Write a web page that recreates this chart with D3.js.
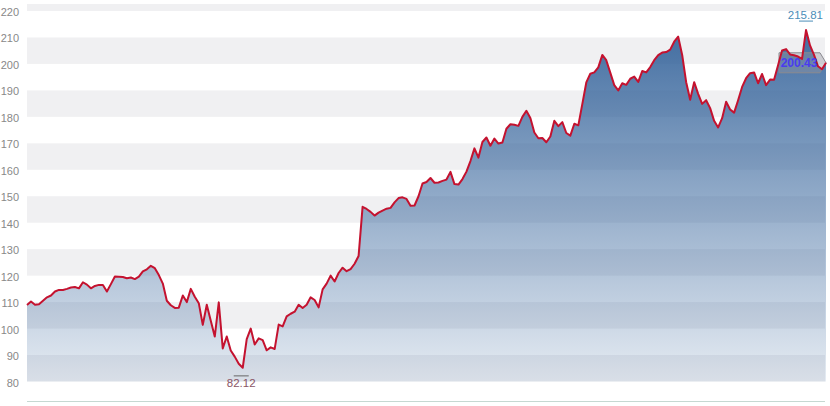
<!DOCTYPE html>
<html>
<head>
<meta charset="utf-8">
<script src="https://cdn.jsdelivr.net/npm/d3@7/dist/d3.min.js"></script>
<style>
  html, body { margin: 0; padding: 0; background: #ffffff; }
  svg { display: block; }
</style>
</head>
<body>
<div id="chart"></div>
<script>
// ---- data ----
const values = [
  108.9,110.2,109.0,109.2,110.5,111.8,112.5,114.0,114.6,114.6,
  115.0,115.5,115.7,115.2,117.5,116.6,115.2,116.1,116.5,116.5,
  114.0,116.8,119.7,119.6,119.5,119.0,119.3,118.7,119.6,121.6,
  122.4,123.7,122.8,120.2,117.0,110.5,108.8,107.8,107.9,112.5,
  110.0,115.0,112.0,109.6,101.4,109.0,103.0,97.0,109.9,92.5,
  97.0,91.7,89.4,86.7,85.2,96.0,100.0,94.0,96.3,95.6,
  91.8,92.9,92.3,101.5,100.8,104.6,105.6,106.4,109.0,107.8,
  109.0,111.8,110.8,108.0,114.8,117.0,120.0,117.8,121.0,123.0,
  121.7,122.5,124.5,127.4,146.0,145.2,144.1,142.7,143.8,144.6,
  145.3,145.6,147.7,149.3,149.6,149.0,146.4,146.5,150.0,154.8,
  155.4,156.9,155.1,155.2,155.8,156.3,159.2,154.6,154.4,156.5,
  159.3,163.3,168.1,164.6,170.5,172.2,169.1,171.8,169.9,170.3,
  175.5,177.2,177.0,176.6,180.0,182.3,179.6,174.1,171.9,172.0,
  170.4,172.6,178.5,176.5,178.0,173.9,172.9,177.4,176.8,184.8,
  193.0,196.3,196.8,198.7,203.4,201.4,196.7,192.0,190.0,192.7,
  192.1,194.4,195.2,193.2,197.3,196.8,198.8,201.4,203.3,204.3,
  204.5,205.4,208.4,210.3,203.4,193.1,186.5,193.1,188.7,184.9,
  186.3,183.3,178.5,176.0,179.5,185.7,182.8,181.6,186.3,191.3,
  194.6,196.5,196.8,192.7,196.2,192.0,194.1,194.0,199.5,205.1,
  205.6,203.6,203.3,202.8,201.9,212.8,207.0,203.4,199.1,198.0,
  200.43
];
const yTicks = [80, 90, 100, 110, 120, 130, 140, 150, 160, 170, 180, 190, 200, 210, 220];
const highValue = 215.81;
const lowValue = 82.12;
const lastValue = 200.43;

// ---- layout ----
const W = 830, H = 406;
const plotLeft = 27, plotRight = 825, plotTop = 4, plotBottom = 402;

const svg = d3.select("#chart").append("svg")
  .attr("width", W).attr("height", H);

const x = d3.scaleLinear().domain([0, values.length - 1]).range([plotLeft, 826]);
const y = d3.scaleLinear().domain([80, 220]).range([381.5, 11]);

const defs = svg.append("defs");
defs.append("clipPath").attr("id", "plotClip")
  .append("rect")
  .attr("x", plotLeft).attr("y", plotTop)
  .attr("width", plotRight - plotLeft + 2).attr("height", plotBottom - plotTop);

const grad = defs.append("linearGradient")
  .attr("id", "areaGrad")
  .attr("gradientUnits", "userSpaceOnUse")
  .attr("x1", 0).attr("x2", 0)
  .attr("y1", y(d3.max(values))).attr("y2", y(80));
grad.append("stop").attr("offset", "0%").attr("stop-color", "#2f5f98").attr("stop-opacity", 0.9);
grad.append("stop").attr("offset", "100%").attr("stop-color", "#2f5f98").attr("stop-opacity", 0.12);

// alternating bands
const bandTicks = yTicks.filter(t => (t / 10) % 2 === 0);
svg.append("g").attr("clip-path", "url(#plotClip)")
  .selectAll("rect").data(bandTicks).join("rect")
  .attr("x", plotLeft)
  .attr("width", plotRight - plotLeft)
  .attr("y", d => y(d + 10))
  .attr("height", d => y(d) - y(d + 10))
  .attr("fill", "#f0f0f2");

// y-axis labels
const yAxis = d3.axisLeft(y).tickValues(yTicks).tickSize(0).tickPadding(0);
const gy = svg.append("g").attr("transform", "translate(19,1)").call(yAxis);
gy.select(".domain").remove();
gy.selectAll("text")
  .attr("fill", "#888888")
  .style("font-family", "'Liberation Sans', Arial, sans-serif")
  .style("font-size", "11px");

// x axis line
svg.append("line")
  .attr("x1", plotLeft).attr("x2", plotRight)
  .attr("y1", plotBottom - 0.5).attr("y2", plotBottom - 0.5)
  .attr("stroke", "#c6d8d2").attr("stroke-width", 1);

// area
const area = d3.area()
  .x((d, i) => x(i))
  .y0(y(80))
  .y1(d => y(d));
svg.append("path")
  .datum(values)
  .attr("d", area)
  .attr("fill", "url(#areaGrad)");

// last value tag box (behind the line)
const ly = y(lastValue);
const lx = x(values.length - 1);
svg.append("path")
  .attr("d", `M${lx - 47},${ly - 10} L${lx - 6},${ly - 10} L${lx},${ly} L${lx - 6},${ly + 10} L${lx - 47},${ly + 10} Z`)
  .attr("fill", "rgba(150,150,160,0.4)")
  .attr("stroke", "#8a8a90")
  .attr("stroke-width", 1);

// line
const line = d3.line()
  .x((d, i) => x(i))
  .y(d => y(d));
svg.append("path")
  .datum(values)
  .attr("d", line)
  .attr("fill", "none")
  .attr("stroke", "#c4122f")
  .attr("stroke-width", 2)
  .attr("stroke-linejoin", "round");

// last value text
svg.append("text")
  .attr("x", lx - 27).attr("y", ly + 4)
  .attr("text-anchor", "middle")
  .attr("fill", "#4a3cf0")
  .style("font-family", "'Liberation Sans', Arial, sans-serif")
  .style("font-size", "12px")
  .style("font-weight", "bold")
  .text(lastValue.toFixed(2));

// high annotation
const hiIdx = values.indexOf(d3.max(values));
svg.append("line")
  .attr("x1", x(hiIdx) - 7).attr("x2", x(hiIdx) + 7)
  .attr("y1", y(highValue) - 1).attr("y2", y(highValue) - 1)
  .attr("stroke", "#4a8db8").attr("stroke-width", 1);
svg.append("text")
  .attr("x", 823).attr("y", y(highValue) - 3)
  .attr("text-anchor", "end")
  .attr("fill", "#4a8db8")
  .style("font-family", "'Liberation Sans', Arial, sans-serif")
  .style("font-size", "11.5px")
  .text(highValue.toFixed(2));

// low annotation
const loIdx = values.indexOf(d3.min(values));
svg.append("line")
  .attr("x1", x(loIdx) - 9).attr("x2", x(loIdx) + 6)
  .attr("y1", y(lowValue)).attr("y2", y(lowValue))
  .attr("stroke", "#666666").attr("stroke-width", 1);
svg.append("text")
  .attr("x", x(loIdx) - 1.5).attr("y", y(lowValue) + 11)
  .attr("text-anchor", "middle")
  .attr("fill", "#8a5566")
  .style("font-family", "'Liberation Sans', Arial, sans-serif")
  .style("font-size", "11.5px")
  .text(lowValue.toFixed(2));
</script>
</body>
</html>
